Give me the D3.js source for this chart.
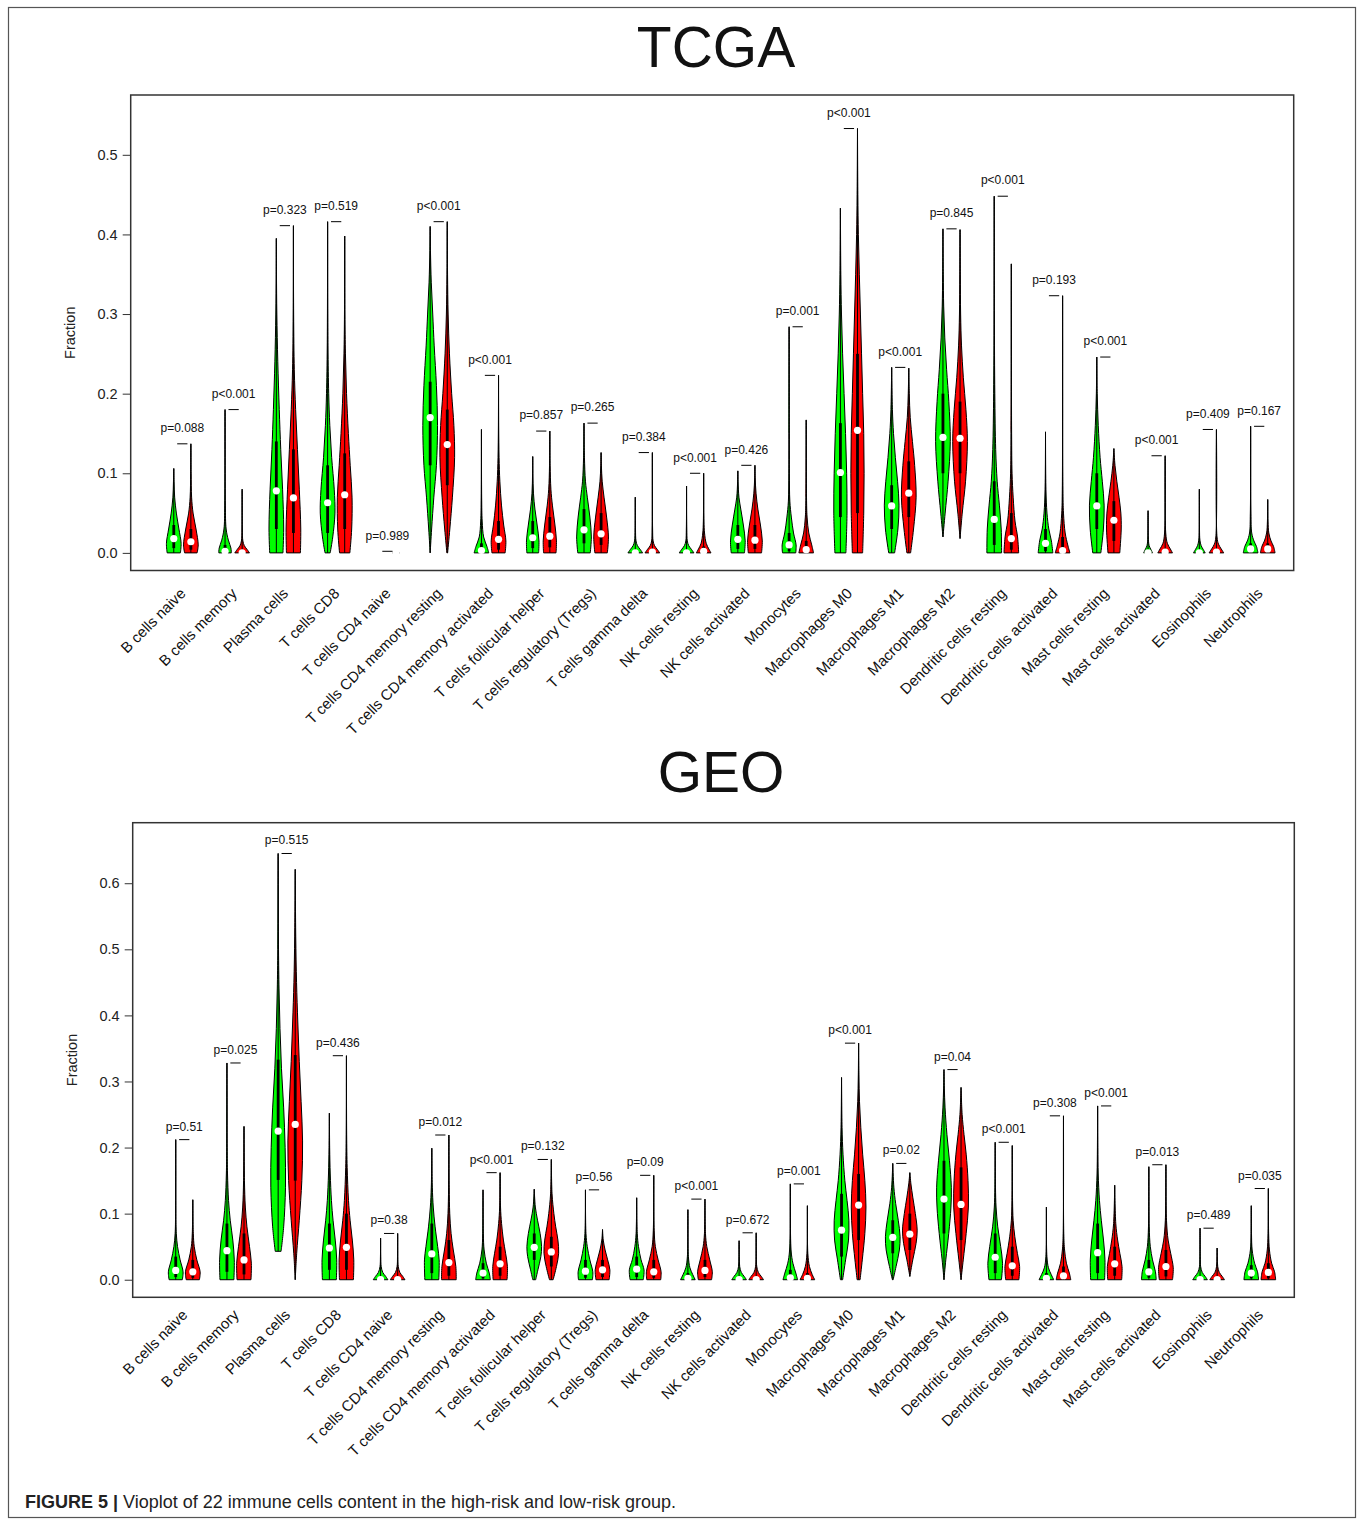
<!DOCTYPE html>
<html><head><meta charset="utf-8">
<script src="https://cdn.jsdelivr.net/npm/d3@7"></script>
<style>
body{margin:0;background:#fff;}
svg{display:block;font-family:"Liberation Sans",Arial,sans-serif;}
</style></head>
<body>
<svg id="chart" width="1357" height="1519"></svg>
<script>
const cellTypes = ["B cells naive","B cells memory","Plasma cells","T cells CD8","T cells CD4 naive","T cells CD4 memory resting","T cells CD4 memory activated","T cells follicular helper","T cells regulatory (Tregs)","T cells gamma delta","NK cells resting","NK cells activated","Monocytes","Macrophages M0","Macrophages M1","Macrophages M2","Dendritic cells resting","Dendritic cells activated","Mast cells resting","Mast cells activated","Eosinophils","Neutrophils"];

// ---------- TCGA ----------
const tcgaP = ["p=0.088","p<0.001","p=0.323","p=0.519","p=0.989","p<0.001","p<0.001","p=0.857","p=0.265","p=0.384","p<0.001","p=0.426","p=0.001","p<0.001","p<0.001","p=0.845","p<0.001","p=0.193","p<0.001","p<0.001","p=0.409","p=0.167"];
const tcgaTicks = [0,0.1,0.2,0.3,0.4,0.5];
// density outline: [value, relative half-width]
const tcgaLowShape = [
 [[0,0.9],[0.012,1],[0.03,0.7],[0.05,0.35],[0.07,0.12],[0.09,0.04],[0.106,0]],
 [[0,0.85],[0.006,0.8],[0.016,0.45],[0.03,0.15],[0.06,0.04],[0.18,0]],
 [[0,0.9],[0.03,1],[0.08,0.85],[0.13,0.6],[0.18,0.4],[0.24,0.2],[0.3,0.07],[0.35,0.02],[0.395,0]],
 [[0,0.35],[0.02,0.7],[0.05,1],[0.08,0.9],[0.12,0.55],[0.16,0.3],[0.2,0.15],[0.26,0.05],[0.416,0]],
 [[0,0.35],[0.001,0]],
 [[0,0],[0.03,0.2],[0.07,0.5],[0.11,0.85],[0.16,1],[0.21,0.85],[0.26,0.55],[0.3,0.35],[0.34,0.15],[0.38,0.04],[0.41,0]],
 [[0,1],[0.008,0.75],[0.02,0.3],[0.04,0.1],[0.07,0.03],[0.155,0]],
 [[0,0.8],[0.015,0.85],[0.035,0.6],[0.055,0.3],[0.075,0.1],[0.1,0.02],[0.121,0]],
 [[0,0.85],[0.02,1],[0.045,0.8],[0.07,0.45],[0.09,0.2],[0.12,0.06],[0.163,0]],
 [[0,1],[0.004,0.7],[0.009,0.3],[0.015,0.1],[0.03,0.03],[0.07,0]],
 [[0,1],[0.004,0.7],[0.009,0.3],[0.015,0.1],[0.03,0.03],[0.084,0]],
 [[0,0.9],[0.015,1],[0.035,0.75],[0.055,0.4],[0.07,0.15],[0.09,0.03],[0.103,0]],
 [[0,0.9],[0.01,0.95],[0.025,0.6],[0.045,0.3],[0.065,0.1],[0.1,0.03],[0.15,0.01],[0.284,0]],
 [[0,0.75],[0.05,0.9],[0.1,0.85],[0.15,0.7],[0.2,0.5],[0.25,0.3],[0.3,0.15],[0.35,0.06],[0.433,0]],
 [[0,0.4],[0.03,0.85],[0.06,1],[0.09,0.8],[0.12,0.5],[0.15,0.25],[0.18,0.1],[0.233,0]],
 [[0.02,0],[0.05,0.3],[0.09,0.7],[0.14,1],[0.19,0.8],[0.23,0.5],[0.27,0.25],[0.31,0.1],[0.35,0.04],[0.407,0]],
 [[0,1],[0.03,0.95],[0.06,0.7],[0.09,0.4],[0.13,0.2],[0.2,0.08],[0.3,0.02],[0.448,0]],
 [[0,1],[0.015,0.8],[0.03,0.45],[0.05,0.2],[0.08,0.06],[0.152,0]],
 [[0,0.55],[0.03,0.9],[0.06,1],[0.09,0.75],[0.12,0.45],[0.16,0.2],[0.2,0.06],[0.246,0]],
 [[0,0.6],[0.004,0.4],[0.009,0.15],[0.02,0.03],[0.053,0]],
 [[0,0.8],[0.004,0.55],[0.009,0.25],[0.016,0.08],[0.03,0.02],[0.08,0]],
 [[0,1],[0.008,0.8],[0.015,0.45],[0.025,0.15],[0.05,0.04],[0.159,0]]
];
const tcgaLowMedian = [0.018,0.002,0.078,0.063,0,0.17,0.003,0.019,0.029,0,0,0.017,0.01,0.101,0.059,0.145,0.042,0.012,0.059,0,0,0.005];
const tcgaLowBox = [[0.006,0.035],[0,0.01],[0.03,0.14],[0.025,0.11],[0,0],[0.11,0.215],[0,0.012],[0.006,0.04],[0.012,0.055],[0,0.002],[0,0.002],[0.005,0.035],[0.002,0.025],[0.045,0.163],[0.03,0.085],[0.1,0.2],[0.01,0.09],[0.002,0.03],[0.03,0.1],[0,0],[0,0.001],[0,0.012]];

const tcgaHighShape = [
 [[0,0.85],[0.01,1],[0.03,0.7],[0.05,0.3],[0.07,0.1],[0.1,0.03],[0.137,0]],
 [[0,1],[0.004,0.7],[0.009,0.3],[0.015,0.1],[0.03,0.02],[0.08,0]],
 [[0,0.95],[0.03,1],[0.08,0.8],[0.13,0.55],[0.18,0.3],[0.23,0.12],[0.3,0.03],[0.411,0]],
 [[0,0.7],[0.03,0.95],[0.07,1],[0.11,0.75],[0.15,0.5],[0.2,0.25],[0.25,0.1],[0.3,0.03],[0.398,0]],
 [[0,0.45],[0.002,0]],
 [[0,0.05],[0.03,0.35],[0.07,0.7],[0.12,1],[0.16,0.9],[0.2,0.6],[0.25,0.3],[0.3,0.12],[0.35,0.04],[0.416,0]],
 [[0,0.9],[0.015,1],[0.035,0.7],[0.06,0.4],[0.09,0.18],[0.12,0.07],[0.16,0.02],[0.223,0]],
 [[0,0.85],[0.015,0.9],[0.035,0.7],[0.06,0.35],[0.08,0.15],[0.11,0.04],[0.153,0]],
 [[0,0.85],[0.02,1],[0.045,0.75],[0.07,0.4],[0.09,0.15],[0.11,0.04],[0.126,0]],
 [[0,1],[0.004,0.7],[0.009,0.3],[0.015,0.1],[0.03,0.03],[0.126,0]],
 [[0,1],[0.005,0.7],[0.012,0.35],[0.025,0.12],[0.04,0.04],[0.1,0]],
 [[0,0.9],[0.015,1],[0.035,0.75],[0.055,0.4],[0.075,0.15],[0.095,0.03],[0.11,0]],
 [[0,1],[0.01,0.75],[0.025,0.35],[0.045,0.12],[0.07,0.04],[0.167,0]],
 [[0,0.7],[0.05,0.85],[0.1,0.9],[0.15,0.85],[0.2,0.7],[0.25,0.55],[0.3,0.4],[0.35,0.25],[0.4,0.12],[0.45,0.05],[0.533,0]],
 [[0,0.25],[0.03,0.65],[0.07,1],[0.11,0.8],[0.14,0.5],[0.17,0.2],[0.2,0.07],[0.232,0]],
 [[0.018,0],[0.05,0.3],[0.09,0.75],[0.14,1],[0.18,0.8],[0.22,0.45],[0.26,0.2],[0.3,0.08],[0.35,0.03],[0.406,0]],
 [[0,1],[0.02,0.85],[0.04,0.5],[0.07,0.25],[0.1,0.1],[0.15,0.04],[0.363,0]],
 [[0,1],[0.01,0.7],[0.025,0.35],[0.05,0.12],[0.08,0.04],[0.323,0]],
 [[0,0.8],[0.03,1],[0.05,0.95],[0.07,0.7],[0.09,0.4],[0.11,0.15],[0.131,0]],
 [[0,1],[0.005,0.7],[0.012,0.3],[0.025,0.08],[0.122,0]],
 [[0,1],[0.005,0.65],[0.011,0.28],[0.02,0.08],[0.155,0]],
 [[0,1],[0.008,0.8],[0.015,0.45],[0.025,0.15],[0.04,0.04],[0.067,0]]
];
const tcgaHighMedian = [0.014,0,0.069,0.073,0,0.136,0.017,0.021,0.024,0.001,0.002,0.016,0.004,0.154,0.075,0.144,0.018,0.003,0.041,0.001,0.001,0.005];
const tcgaHighBox = [[0.004,0.03],[0,0.002],[0.025,0.13],[0.03,0.125],[0,0],[0.085,0.18],[0.004,0.04],[0.007,0.045],[0.01,0.05],[0,0.003],[0,0.008],[0.005,0.035],[0,0.015],[0.05,0.25],[0.045,0.115],[0.1,0.19],[0.004,0.05],[0,0.02],[0.015,0.065],[0,0.005],[0,0.004],[0,0.012]];

// ---------- GEO ----------
const geoP = ["p=0.51","p=0.025","p=0.515","p=0.436","p=0.38","p=0.012","p<0.001","p=0.132","p=0.56","p=0.09","p<0.001","p=0.672","p=0.001","p<0.001","p=0.02","p=0.04","p<0.001","p=0.308","p<0.001","p=0.013","p=0.489","p=0.035"];
const geoTicks = [0,0.1,0.2,0.3,0.4,0.5,0.6];
const geoLowShape = [
 [[0,0.9],[0.012,1],[0.03,0.6],[0.05,0.25],[0.07,0.08],[0.1,0.02],[0.212,0]],
 [[0,0.95],[0.03,1],[0.06,0.8],[0.09,0.45],[0.12,0.22],[0.16,0.08],[0.2,0.03],[0.328,0]],
 [[0.043,0.4],[0.08,0.75],[0.14,1],[0.2,0.95],[0.26,0.75],[0.32,0.45],[0.38,0.25],[0.44,0.12],[0.5,0.05],[0.645,0]],
 [[0,0.95],[0.03,1],[0.06,0.8],[0.09,0.5],[0.12,0.28],[0.16,0.12],[0.2,0.04],[0.252,0]],
 [[0,1],[0.005,0.7],[0.011,0.3],[0.02,0.08],[0.035,0.02],[0.063,0]],
 [[0,0.95],[0.03,1],[0.05,0.8],[0.08,0.45],[0.11,0.2],[0.14,0.07],[0.199,0]],
 [[0,1],[0.01,0.85],[0.025,0.45],[0.045,0.15],[0.07,0.04],[0.136,0]],
 [[0,0.2],[0.015,0.5],[0.035,0.9],[0.05,1],[0.07,0.8],[0.09,0.45],[0.11,0.15],[0.137,0]],
 [[0,0.95],[0.012,1],[0.03,0.6],[0.05,0.25],[0.07,0.07],[0.136,0]],
 [[0,0.9],[0.015,1],[0.03,0.6],[0.05,0.25],[0.07,0.08],[0.124,0]],
 [[0,1],[0.008,0.65],[0.018,0.28],[0.035,0.07],[0.106,0]],
 [[0,1],[0.005,0.7],[0.011,0.3],[0.02,0.08],[0.035,0.02],[0.059,0]],
 [[0,1],[0.01,0.75],[0.025,0.35],[0.045,0.1],[0.145,0]],
 [[0,0.15],[0.03,0.55],[0.06,0.95],[0.09,1],[0.12,0.75],[0.15,0.45],[0.19,0.2],[0.23,0.07],[0.306,0]],
 [[0,0.05],[0.02,0.45],[0.045,0.9],[0.065,1],[0.09,0.75],[0.115,0.4],[0.14,0.15],[0.176,0]],
 [[0,0],[0.03,0.25],[0.07,0.65],[0.11,0.95],[0.14,1],[0.18,0.75],[0.22,0.4],[0.26,0.15],[0.29,0.05],[0.318,0]],
 [[0,0.85],[0.025,1],[0.05,0.75],[0.08,0.35],[0.11,0.12],[0.14,0.04],[0.208,0]],
 [[0,1],[0.008,0.65],[0.018,0.28],[0.035,0.07],[0.11,0]],
 [[0,0.95],[0.03,1],[0.06,0.8],[0.09,0.5],[0.12,0.25],[0.16,0.08],[0.2,0.03],[0.263,0]],
 [[0,1],[0.012,0.9],[0.03,0.5],[0.05,0.2],[0.08,0.05],[0.171,0]],
 [[0,1],[0.005,0.7],[0.011,0.3],[0.02,0.08],[0.035,0.02],[0.078,0]],
 [[0,1],[0.012,0.85],[0.025,0.45],[0.045,0.12],[0.07,0.03],[0.112,0]]
];
const geoLowMedian = [0.014,0.044,0.225,0.048,0,0.039,0.01,0.049,0.013,0.016,0.002,0,0.003,0.075,0.064,0.122,0.034,0.002,0.041,0.012,0,0.01];
const geoLowBox = [[0.004,0.035],[0.012,0.085],[0.151,0.333],[0.015,0.085],[0,0.002],[0.01,0.085],[0.002,0.025],[0.03,0.07],[0.003,0.03],[0.004,0.035],[0,0.01],[0,0.002],[0,0.015],[0.035,0.13],[0.04,0.09],[0.07,0.18],[0.01,0.07],[0,0.01],[0.01,0.085],[0.003,0.03],[0,0.002],[0.002,0.022]];

const geoHighShape = [
 [[0,0.9],[0.012,1],[0.03,0.55],[0.05,0.2],[0.07,0.07],[0.121,0]],
 [[0,0.95],[0.025,1],[0.05,0.75],[0.08,0.4],[0.11,0.18],[0.15,0.06],[0.232,0]],
 [[0,0],[0.04,0.2],[0.09,0.55],[0.15,0.9],[0.21,1],[0.27,0.8],[0.33,0.55],[0.39,0.35],[0.45,0.18],[0.52,0.07],[0.621,0]],
 [[0,0.95],[0.03,1],[0.06,0.8],[0.09,0.5],[0.12,0.28],[0.17,0.1],[0.22,0.03],[0.339,0]],
 [[0,1],[0.005,0.7],[0.011,0.3],[0.02,0.08],[0.035,0.02],[0.07,0]],
 [[0,1],[0.02,0.95],[0.045,0.6],[0.07,0.3],[0.1,0.12],[0.14,0.04],[0.219,0]],
 [[0,0.95],[0.02,1],[0.04,0.75],[0.06,0.45],[0.085,0.2],[0.11,0.06],[0.162,0]],
 [[0,0.25],[0.02,0.7],[0.04,1],[0.06,0.9],[0.08,0.6],[0.1,0.35],[0.13,0.1],[0.182,0]],
 [[0,0.9],[0.015,1],[0.03,0.7],[0.045,0.35],[0.06,0.1],[0.076,0]],
 [[0,0.95],[0.012,1],[0.03,0.6],[0.05,0.22],[0.075,0.06],[0.158,0]],
 [[0,0.9],[0.012,1],[0.03,0.65],[0.05,0.25],[0.07,0.07],[0.122,0]],
 [[0,1],[0.005,0.7],[0.011,0.3],[0.02,0.08],[0.035,0.02],[0.071,0]],
 [[0,1],[0.008,0.65],[0.02,0.28],[0.04,0.06],[0.112,0]],
 [[0,0.2],[0.03,0.5],[0.07,0.85],[0.11,1],[0.15,0.85],[0.19,0.55],[0.23,0.3],[0.27,0.12],[0.31,0.04],[0.358,0]],
 [[0.005,0],[0.03,0.4],[0.055,0.85],[0.075,1],[0.1,0.75],[0.125,0.4],[0.145,0.15],[0.162,0]],
 [[0,0],[0.03,0.3],[0.07,0.7],[0.11,1],[0.15,0.95],[0.19,0.7],[0.22,0.4],[0.25,0.15],[0.291,0]],
 [[0,0.9],[0.02,1],[0.04,0.7],[0.065,0.35],[0.09,0.12],[0.12,0.04],[0.203,0]],
 [[0,1],[0.01,0.8],[0.025,0.4],[0.045,0.15],[0.07,0.04],[0.248,0]],
 [[0,0.95],[0.02,1],[0.04,0.7],[0.06,0.4],[0.085,0.15],[0.143,0]],
 [[0,0.9],[0.018,1],[0.04,0.65],[0.06,0.3],[0.09,0.08],[0.174,0]],
 [[0,1],[0.005,0.7],[0.011,0.3],[0.02,0.08],[0.035,0.02],[0.048,0]],
 [[0,1],[0.012,0.85],[0.025,0.45],[0.045,0.15],[0.07,0.04],[0.138,0]]
];
const geoHighMedian = [0.012,0.03,0.235,0.049,0,0.026,0.024,0.042,0.015,0.012,0.014,0,0.002,0.113,0.069,0.114,0.021,0.006,0.024,0.02,0,0.011];
const geoHighBox = [[0.003,0.03],[0.008,0.07],[0.15,0.34],[0.015,0.1],[0,0.002],[0.006,0.06],[0.006,0.05],[0.02,0.065],[0.004,0.03],[0.003,0.03],[0.004,0.03],[0,0.002],[0,0.01],[0.06,0.16],[0.045,0.1],[0.06,0.17],[0.006,0.05],[0.001,0.02],[0.006,0.05],[0.005,0.045],[0,0.002],[0.002,0.025]];

const lowColor = "#00ff00", highColor = "#ff0000";

const svg = d3.select("#chart");
svg.append("rect").attr("x",8.5).attr("y",7.5).attr("width",1347).attr("height",1510)
  .attr("fill","none").attr("stroke","#555").attr("stroke-width",1.2);

function drawPanel(cfg){
  const g = svg.append("g");
  const n = cellTypes.length;
  const allMax = d3.max([...cfg.low, ...cfg.high], s => s[s.length-1][0]);
  const ylim = [0, allMax + 0.02];
  const pad = (ylim[1]-ylim[0])*0.04;
  const y = d3.scaleLinear().domain([ylim[0]-pad, ylim[1]+pad]).range([cfg.bottom, cfg.top]);
  const xlim = [0, 63];
  const xpad = (xlim[1]-xlim[0])*0.04;
  const x = d3.scaleLinear().domain([xlim[0]-xpad, xlim[1]+xpad]).range([cfg.left, cfg.right]);
  const unit = x(1)-x(0);
  const hw = unit*0.43;

  // title
  g.append("text").attr("x",cfg.titleX).attr("y",cfg.titleY).attr("text-anchor","middle")
    .attr("font-size",57).attr("fill","#111").text(cfg.title);

  // y axis
  const ax = g.append("g").attr("transform",`translate(${cfg.left},0)`)
    .call(d3.axisLeft(y).tickValues(cfg.ticks).tickFormat(d3.format(".1f")).tickSize(8).tickPadding(5));
  ax.select(".domain").remove();
  ax.selectAll("line").attr("stroke","#333");
  ax.selectAll("text").attr("font-size",14.5).attr("fill","#222").attr("font-family","Liberation Sans, Arial, sans-serif");
  g.append("text").attr("transform",`translate(${cfg.ylabX},${(cfg.top+cfg.bottom)/2}) rotate(-90)`)
    .attr("text-anchor","middle").attr("font-size",14.5).attr("fill","#222").text("Fraction");

  const area = d3.area()
    .y(d => y(d[0]))
    .curve(d3.curveCatmullRom.alpha(0.5));

  function violin(shape, cx, color, med, box){
    area.x0(d => cx - hw*d[1]).x1(d => cx + hw*d[1]);
    g.append("path").attr("d", area(shape)).attr("fill", color)
      .attr("stroke","#000").attr("stroke-width",1).attr("stroke-linejoin","round");
    g.append("line").attr("x1",cx).attr("x2",cx)
      .attr("y1",y(shape[0][0])).attr("y2",y(shape[shape.length-1][0]))
      .attr("stroke","#000").attr("stroke-width",1);
    g.append("rect").attr("x",cx-1.4).attr("width",2.8)
      .attr("y",y(box[1])).attr("height",Math.max(0,y(box[0])-y(box[1])))
      .attr("fill","#000");
    g.append("circle").attr("cx",cx).attr("cy",y(med)).attr("r",3.6).attr("fill","#fff");
  }

  for(let i=0;i<n;i++){
    const pl = 3*i, ph = 3*i+1;
    violin(cfg.low[i], x(pl), lowColor, cfg.lowMed[i], cfg.lowBox[i]);
    violin(cfg.high[i], x(ph), highColor, cfg.highMed[i], cfg.highBox[i]);
    const mx = Math.max(cfg.low[i][cfg.low[i].length-1][0], cfg.high[i][cfg.high[i].length-1][0]);
    g.append("line").attr("x1",x(pl+0.2)).attr("x2",x(pl+0.8)).attr("y1",y(mx)).attr("y2",y(mx))
      .attr("stroke","#000").attr("stroke-width",1);
    g.append("text").attr("x",x(pl+0.5)).attr("y",y(mx+0.02)).attr("dy","0.35em")
      .attr("text-anchor","middle").attr("font-size",12).attr("fill","#111").text(cfg.p[i]);
    g.append("text")
      .attr("transform",`translate(${x(ph)-8},${y(-0.04)+6}) rotate(-45)`)
      .attr("text-anchor","end").attr("dy","0.35em").attr("font-size",15).attr("fill","#111")
      .text(cellTypes[i]);
  }

  // plot box
  g.append("rect").attr("x",cfg.left).attr("y",cfg.top).attr("width",cfg.right-cfg.left)
    .attr("height",cfg.bottom-cfg.top).attr("fill","none").attr("stroke","#333").attr("stroke-width",1.5);
}

drawPanel({title:"TCGA", titleX:716, titleY:67, left:130.7, right:1293.7, top:95, bottom:570.5, ylabX:75,
  ticks:tcgaTicks, p:tcgaP, low:tcgaLowShape, high:tcgaHighShape, lowMed:tcgaLowMedian, highMed:tcgaHighMedian,
  lowBox:tcgaLowBox, highBox:tcgaHighBox});
drawPanel({title:"GEO", titleX:721, titleY:792, left:132.7, right:1294.3, top:822.7, bottom:1297.3, ylabX:77,
  ticks:geoTicks, p:geoP, low:geoLowShape, high:geoHighShape, lowMed:geoLowMedian, highMed:geoHighMedian,
  lowBox:geoLowBox, highBox:geoHighBox});

// caption
const cap = svg.append("text").attr("x",25).attr("y",1508).attr("font-size",18).attr("fill","#222");
cap.append("tspan").attr("font-weight","bold").text("FIGURE 5 | ");
cap.append("tspan").text("Vioplot of 22 immune cells content in the high-risk and low-risk group.");
</script>
</body></html>
